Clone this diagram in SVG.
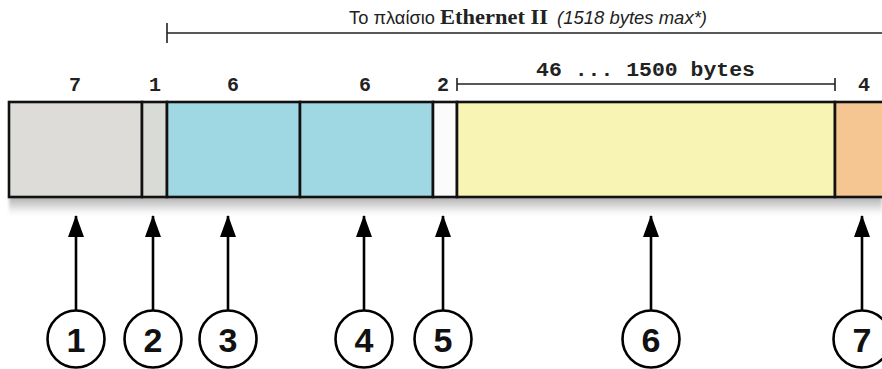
<svg xmlns="http://www.w3.org/2000/svg" width="882" height="369" viewBox="0 0 882 369">
  <defs>
    <linearGradient id="shadowGrad" x1="0" y1="0" x2="0" y2="1">
      <stop offset="0" stop-color="#8a8a8a" stop-opacity="0.75"/>
      <stop offset="0.5" stop-color="#b5b5b5" stop-opacity="0.45"/>
      <stop offset="1" stop-color="#ffffff" stop-opacity="0"/>
    </linearGradient>
    <filter id="soft" x="-5%" y="-50%" width="110%" height="200%">
      <feGaussianBlur stdDeviation="1.5"/>
    </filter>
    <!-- arrowhead drawn pointing along +x, rotated to follow the line -->
    <marker id="head" viewBox="0 0 22 16" refX="21" refY="8" markerWidth="22" markerHeight="16" markerUnits="userSpaceOnUse" orient="auto">
      <path d="M22,8 L0,0 L0,16 Z" fill="#000"/>
    </marker>
  </defs>
  <style>
    .field { stroke: #111; stroke-width: 2.6; }
    .size { font-family: "Liberation Mono", "DejaVu Sans Mono", monospace; font-weight: bold; font-size: 20px; fill: #222; text-anchor: middle; }
    .bracket { stroke: #222; stroke-width: 1.6; fill: none; }
    .arrow { stroke: #000; stroke-width: 2.6; fill: none; }
    .badge circle { fill: #fff; stroke: #000; stroke-width: 2.6; }
    .badge text { font-family: "Liberation Sans", Arial, sans-serif; font-weight: bold; font-size: 34px; fill: #111; text-anchor: middle; }
  </style>

  <rect width="882" height="369" fill="#fff"/>

  <!-- frame title and overall span -->
  <g id="title">
    <text y="24" font-size="18" fill="#222">
      <tspan x="349" font-family="Liberation Sans, Arial, sans-serif" textLength="86" lengthAdjust="spacingAndGlyphs">Το πλαίσιο</tspan>
      <tspan x="440" font-family="Liberation Serif, Times New Roman, serif" font-weight="bold" font-size="21" textLength="108" lengthAdjust="spacingAndGlyphs">Ethernet II</tspan>
      <tspan x="557" font-family="Liberation Sans, Arial, sans-serif" font-style="italic" textLength="150" lengthAdjust="spacingAndGlyphs">(1518 bytes max*)</tspan>
    </text>
    <path class="bracket" d="M167,33 H882 M167,23 V43"/>
  </g>

  <!-- shadow under the frame bar -->
  <rect x="9" y="196" width="873" height="22" fill="url(#shadowGrad)" filter="url(#soft)"/>

  <!-- frame fields -->
  <g id="preamble"><rect class="field" x="9" y="102" width="133" height="95" fill="#dddcd8"/></g>
  <g id="sfd"><rect class="field" x="142" y="102" width="25" height="95" fill="#d9dbd6"/></g>
  <g id="dest-mac"><rect class="field" x="167" y="102" width="133" height="95" fill="#9fd8e3"/></g>
  <g id="src-mac"><rect class="field" x="300" y="102" width="133" height="95" fill="#9fd8e3"/></g>
  <g id="ethertype"><rect class="field" x="433" y="102" width="24" height="95" fill="#fbfbfb"/></g>
  <g id="payload"><rect class="field" x="457" y="102" width="378" height="95" fill="#f8f4b3"/></g>
  <g id="fcs"><rect class="field" x="835" y="102" width="60" height="95" fill="#f5c592"/></g>

  <!-- field sizes in bytes -->
  <g id="sizes">
    <text class="size" x="75" y="91">7</text>
    <text class="size" x="155" y="91">1</text>
    <text class="size" x="233" y="91">6</text>
    <text class="size" x="365" y="91">6</text>
    <text class="size" x="443" y="91">2</text>
    <text class="size" x="864" y="91">4</text>
    <text class="size" x="645.5" y="76" font-size="19" textLength="219" lengthAdjust="spacingAndGlyphs">46 ... 1500 bytes</text>
    <path class="bracket" d="M457,84 H835 M457,78 V91 M835,78 V91"/>
  </g>

  <!-- pointers from the numbered badges to the fields -->
  <g id="connectors">
    <line class="arrow" x1="76" y1="311" x2="76" y2="216" marker-end="url(#head)"/>
    <line class="arrow" x1="153" y1="311" x2="153" y2="216" marker-end="url(#head)"/>
    <line class="arrow" x1="228" y1="311" x2="228" y2="216" marker-end="url(#head)"/>
    <line class="arrow" x1="364" y1="311" x2="364" y2="216" marker-end="url(#head)"/>
    <line class="arrow" x1="443" y1="311" x2="443" y2="216" marker-end="url(#head)"/>
    <line class="arrow" x1="651" y1="311" x2="651" y2="216" marker-end="url(#head)"/>
    <line class="arrow" x1="862" y1="311" x2="862" y2="216" marker-end="url(#head)"/>
  </g>

  <!-- numbered badges -->
  <g id="badge-1" class="badge"><circle cx="76" cy="339" r="28.5"/><text x="76" y="352">1</text></g>
  <g id="badge-2" class="badge"><circle cx="153" cy="339" r="28.5"/><text x="153" y="352">2</text></g>
  <g id="badge-3" class="badge"><circle cx="228" cy="339" r="28.5"/><text x="228" y="352">3</text></g>
  <g id="badge-4" class="badge"><circle cx="364" cy="339" r="28.5"/><text x="364" y="352">4</text></g>
  <g id="badge-5" class="badge"><circle cx="443" cy="339" r="28.5"/><text x="443" y="352">5</text></g>
  <g id="badge-6" class="badge"><circle cx="651" cy="339" r="28.5"/><text x="651" y="352">6</text></g>
  <g id="badge-7" class="badge"><circle cx="862" cy="339" r="28.5"/><text x="862" y="352">7</text></g>
</svg>
